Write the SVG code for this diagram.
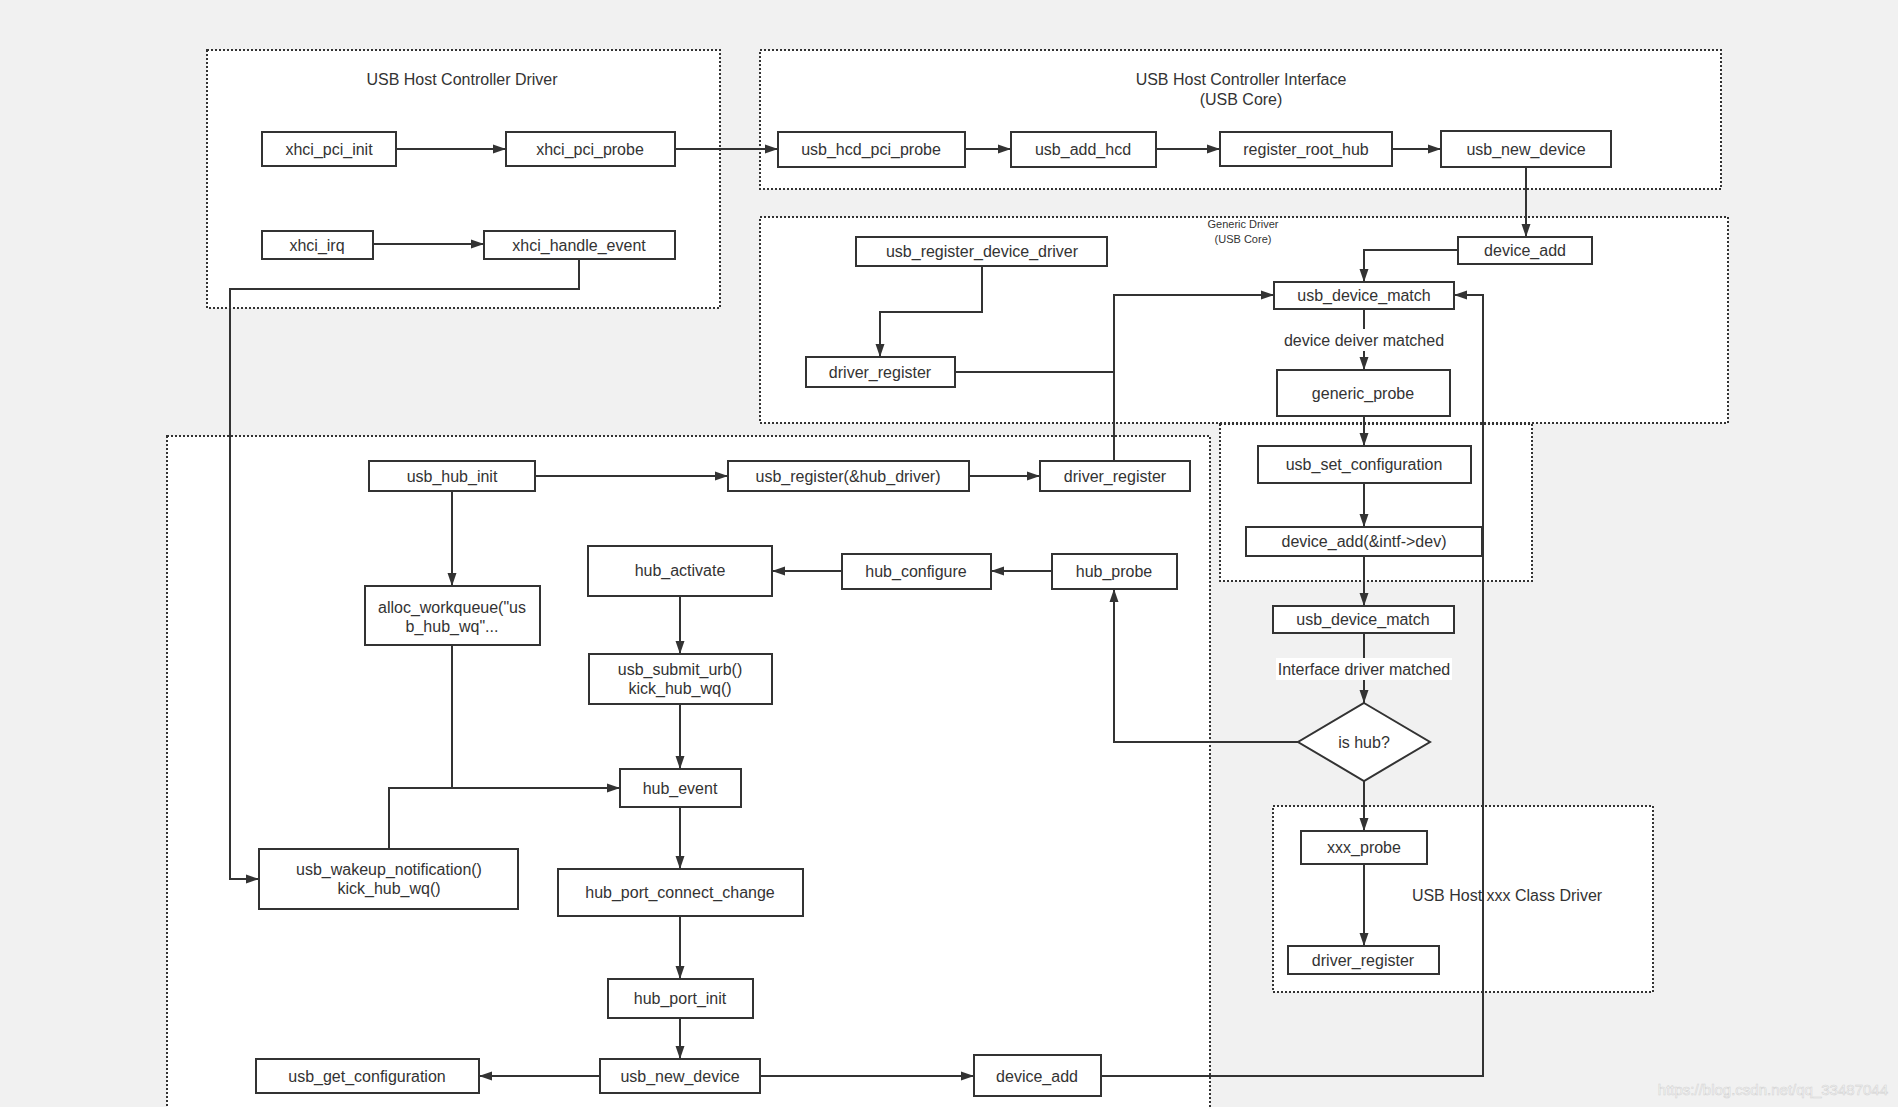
<svg xmlns="http://www.w3.org/2000/svg" width="1898" height="1107" viewBox="0 0 1898 1107">
<style>
.bg{fill:#f1f1f1}
.grp{fill:#ffffff;stroke:#333;stroke-width:2;stroke-dasharray:2 2}
.box rect,.box polygon{fill:#fff;stroke:#333;stroke-width:2}
text{font-family:"Liberation Sans",Arial,sans-serif;font-size:16px;fill:#333;text-anchor:middle;dominant-baseline:central}
.small{font-size:11px}
.edge{fill:none;stroke:#333;stroke-width:2}
.arr{marker-end:url(#ah)}
.lbl{fill:#fff}
</style>
<defs>
<marker id="ah" markerUnits="userSpaceOnUse" markerWidth="14" markerHeight="10" refX="13" refY="5" orient="auto">
<path d="M0,0.5 L13,5 L0,9.5 z" fill="#333"/>
</marker>
</defs>
<rect class="bg" x="0" y="0" width="1898" height="1107"/>

<g id="containers">
<g id="c-hcd"><rect class="grp" x="207" y="50" width="513" height="258"/><text x="462" y="79">USB Host Controller Driver</text></g>
<g id="c-hci"><rect class="grp" x="760" y="50" width="961" height="139"/><text x="1241" y="79">USB Host Controller Interface</text><text x="1241" y="99">(USB Core)</text></g>
<g id="c-generic"><rect class="grp" x="760" y="217" width="968" height="206"/><text class="small" x="1243" y="224">Generic Driver</text><text class="small" x="1243" y="239">(USB Core)</text></g>
<g id="c-config"><rect class="grp" x="1220" y="424" width="312" height="157"/></g>
<g id="c-hub"><rect class="grp" x="167" y="436" width="1043" height="690"/></g>
<g id="c-class"><rect class="grp" x="1273" y="806" width="380" height="186"/><text x="1507" y="895">USB Host xxx Class Driver</text></g>
</g>

<g id="connectors">
<path class="edge arr" d="M396,149 H506"/>
<path class="edge arr" d="M373,244 H484"/>
<path class="edge arr" d="M675,149 H778"/>
<path class="edge arr" d="M965,149 H1011"/>
<path class="edge arr" d="M1156,149 H1220"/>
<path class="edge arr" d="M1392,149 H1441"/>
<path class="edge arr" d="M1526,167 V237"/>
<path class="edge arr" d="M1458,250 H1364 V282"/>
<path class="edge arr" d="M982,266 V312 H880 V357"/>
<path class="edge" d="M955,372 H1114"/>
<path class="edge arr" d="M1114,461 V295 H1274"/>
<path class="edge arr" d="M1364,309 V370"/>
<path class="edge arr" d="M1364,416 V446"/>
<path class="edge arr" d="M1364,483 V527"/>
<path class="edge arr" d="M1364,556 V606"/>
<path class="edge arr" d="M1364,633 V703"/>
<path class="edge arr" d="M1298,742 H1114 V589"/>
<path class="edge arr" d="M1364,781 V831"/>
<path class="edge arr" d="M1364,864 V946"/>
<path class="edge arr" d="M579,259 V289 H230 V879 H259"/>
<path class="edge arr" d="M535,476 H728"/>
<path class="edge arr" d="M969,476 H1040"/>
<path class="edge arr" d="M452,491 V586"/>
<path class="edge arr" d="M1052,571 H991"/>
<path class="edge arr" d="M842,571 H772"/>
<path class="edge arr" d="M680,596 V654"/>
<path class="edge arr" d="M680,704 V769"/>
<path class="edge arr" d="M452,645 V788 H620"/>
<path class="edge" d="M389,849 V788 H452"/>
<path class="edge arr" d="M680,807 V869"/>
<path class="edge arr" d="M680,916 V979"/>
<path class="edge arr" d="M680,1018 V1059"/>
<path class="edge arr" d="M600,1076 H479"/>
<path class="edge arr" d="M760,1076 H974"/>
<path class="edge arr" d="M1101,1076 H1483 V295 H1454"/>
<g id="lbl-device-matched"><rect class="lbl" x="1282" y="329" width="164" height="22"/><text x="1364" y="340">device deiver matched</text></g>
<g id="lbl-intf-matched"><rect class="lbl" x="1276" y="658" width="176" height="22"/><text x="1364" y="669">Interface driver matched</text></g>
</g>

<g id="n-xhci_pci_init" class="box"><rect x="262" y="132" width="134" height="34"/><text x="329" y="149">xhci_pci_init</text></g>
<g id="n-xhci_pci_probe" class="box"><rect x="506" y="132" width="169" height="34"/><text x="590" y="149">xhci_pci_probe</text></g>
<g id="n-xhci_irq" class="box"><rect x="262" y="231" width="111" height="28"/><text x="317" y="245">xhci_irq</text></g>
<g id="n-xhci_handle_event" class="box"><rect x="484" y="231" width="191" height="28"/><text x="579" y="245">xhci_handle_event</text></g>
<g id="n-usb_hcd_pci_probe" class="box"><rect x="778" y="132" width="187" height="35"/><text x="871" y="149">usb_hcd_pci_probe</text></g>
<g id="n-usb_add_hcd" class="box"><rect x="1011" y="132" width="145" height="35"/><text x="1083" y="149">usb_add_hcd</text></g>
<g id="n-register_root_hub" class="box"><rect x="1220" y="132" width="172" height="34"/><text x="1306" y="149">register_root_hub</text></g>
<g id="n-usb_new_device_top" class="box"><rect x="1441" y="131" width="170" height="36"/><text x="1526" y="149">usb_new_device</text></g>
<g id="n-device_add_top" class="box"><rect x="1458" y="237" width="134" height="27"/><text x="1525" y="250">device_add</text></g>
<g id="n-usb_register_device_driver" class="box"><rect x="856" y="237" width="251" height="29"/><text x="982" y="251">usb_register_device_driver</text></g>
<g id="n-driver_register_generic" class="box"><rect x="806" y="357" width="149" height="30"/><text x="880" y="372">driver_register</text></g>
<g id="n-usb_device_match_1" class="box"><rect x="1274" y="282" width="180" height="27"/><text x="1364" y="295">usb_device_match</text></g>
<g id="n-generic_probe" class="box"><rect x="1277" y="370" width="173" height="46"/><text x="1363" y="393">generic_probe</text></g>
<g id="n-usb_set_configuration" class="box"><rect x="1258" y="446" width="213" height="37"/><text x="1364" y="464">usb_set_configuration</text></g>
<g id="n-device_add_intf" class="box"><rect x="1246" y="527" width="236" height="29"/><text x="1364" y="541">device_add(&amp;intf-&gt;dev)</text></g>
<g id="n-usb_device_match_2" class="box"><rect x="1273" y="606" width="181" height="27"/><text x="1363" y="619">usb_device_match</text></g>
<g id="n-is_hub" class="box"><polygon points="1364,703 1430,742 1364,781 1298,742"/><text x="1364" y="742">is hub?</text></g>
<g id="n-xxx_probe" class="box"><rect x="1301" y="831" width="126" height="33"/><text x="1364" y="847">xxx_probe</text></g>
<g id="n-driver_register_xxx" class="box"><rect x="1288" y="946" width="151" height="28"/><text x="1363" y="960">driver_register</text></g>
<g id="n-usb_hub_init" class="box"><rect x="369" y="461" width="166" height="30"/><text x="452" y="476">usb_hub_init</text></g>
<g id="n-usb_register" class="box"><rect x="728" y="461" width="241" height="30"/><text x="848" y="476">usb_register(&amp;hub_driver)</text></g>
<g id="n-driver_register_hub" class="box"><rect x="1040" y="461" width="150" height="30"/><text x="1115" y="476">driver_register</text></g>
<g id="n-hub_activate" class="box"><rect x="588" y="546" width="184" height="50"/><text x="680" y="570">hub_activate</text></g>
<g id="n-hub_configure" class="box"><rect x="842" y="554" width="149" height="35"/><text x="916" y="571">hub_configure</text></g>
<g id="n-hub_probe" class="box"><rect x="1052" y="554" width="125" height="35"/><text x="1114" y="571">hub_probe</text></g>
<g id="n-alloc_workqueue" class="box"><rect x="365" y="586" width="175" height="59"/><text x="452" y="607">alloc_workqueue("us</text><text x="452" y="626">b_hub_wq"...</text></g>
<g id="n-usb_submit_urb" class="box"><rect x="589" y="654" width="183" height="50"/><text x="680" y="669">usb_submit_urb()</text><text x="680" y="688">kick_hub_wq()</text></g>
<g id="n-hub_event" class="box"><rect x="620" y="769" width="121" height="38"/><text x="680" y="788">hub_event</text></g>
<g id="n-usb_wakeup_notification" class="box"><rect x="259" y="849" width="259" height="60"/><text x="389" y="869">usb_wakeup_notification()</text><text x="389" y="888">kick_hub_wq()</text></g>
<g id="n-hub_port_connect_change" class="box"><rect x="558" y="869" width="245" height="47"/><text x="680" y="892">hub_port_connect_change</text></g>
<g id="n-hub_port_init" class="box"><rect x="608" y="979" width="145" height="39"/><text x="680" y="998">hub_port_init</text></g>
<g id="n-usb_new_device_hub" class="box"><rect x="600" y="1059" width="160" height="34"/><text x="680" y="1076">usb_new_device</text></g>
<g id="n-usb_get_configuration" class="box"><rect x="256" y="1059" width="223" height="34"/><text x="367" y="1076">usb_get_configuration</text></g>
<g id="n-device_add_hub" class="box"><rect x="974" y="1055" width="127" height="41"/><text x="1037" y="1076">device_add</text></g>

<text x="1888" y="1089" style="text-anchor:end;font-size:15px;fill:#fbfbfb;stroke:#d4d4d4;stroke-width:0.6">https://blog.csdn.net/qq_33487044</text>
</svg>
